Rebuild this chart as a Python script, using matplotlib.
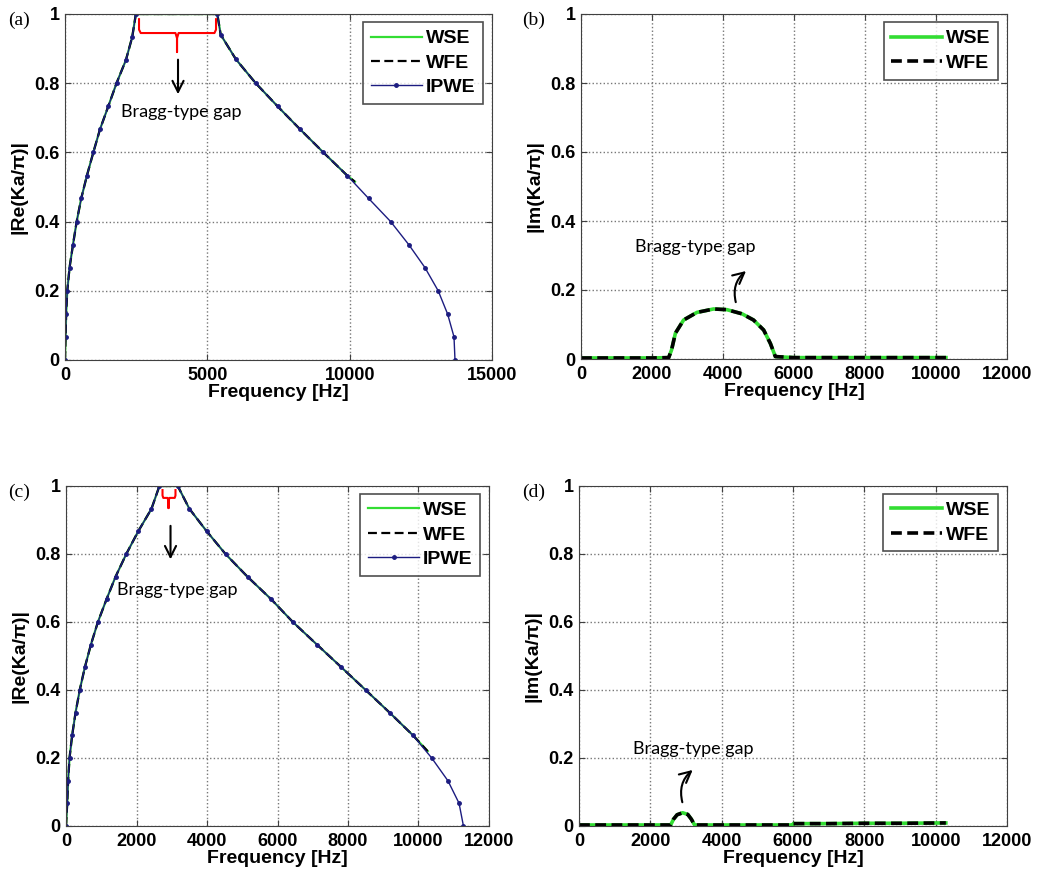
import matplotlib
matplotlib.use('Agg')
import matplotlib.pyplot as plt
import numpy as np

plt.rcParams['font.family'] = ['Liberation Sans', 'DejaVu Sans']

# ---- panel (a): real part, gap between 2490 and 5350 Hz ----
a_ipwe_f = [0, 20, 40, 80, 160, 280, 410, 570, 770, 995, 1230, 1520, 1810, 2140, 2360, 2490,
            5350, 5470, 6005, 6700, 7470, 8255, 9075, 9915, 10665, 11440, 12080, 12645, 13110,
            13440, 13665, 13700]
a_ipwe_re = [0, 0.067, 0.133, 0.2, 0.267, 0.333, 0.4, 0.467, 0.533, 0.6, 0.667, 0.733, 0.8,
             0.867, 0.933, 1.0,
             1.0, 0.94, 0.869, 0.8, 0.733, 0.667, 0.6, 0.533, 0.467, 0.4, 0.333, 0.267, 0.2,
             0.133, 0.067, 0]
a_wse_f = [0, 20, 40, 80, 160, 280, 410, 570, 770, 995, 1230, 1520, 1810, 2140, 2360, 2490,
           5350, 5470, 6005, 6700, 7470, 8255, 9075, 9915, 10185]
a_wse_re = [0, 0.067, 0.133, 0.2, 0.267, 0.333, 0.4, 0.467, 0.533, 0.6, 0.667, 0.733, 0.8,
            0.867, 0.933, 1.0,
            1.0, 0.94, 0.869, 0.8, 0.733, 0.667, 0.6, 0.533, 0.515]

# ---- panel (b): imaginary part ----
b_f = [0, 500, 1000, 1500, 2000, 2470, 2550, 2660, 2890, 3265, 3735, 4110, 4535, 4860, 5145,
       5335, 5475, 6000, 7000, 8000, 9000, 10280]
b_im = [0.003, 0.003, 0.003, 0.003, 0.003, 0.004, 0.026, 0.075, 0.113, 0.135, 0.145, 0.143,
        0.131, 0.113, 0.084, 0.045, 0.007, 0.004, 0.004, 0.004, 0.004, 0.004]

# ---- panel (c): real part, gap between 2650 and 3170 Hz ----
c_ipwe_f = [0, 35, 60, 100, 175, 270, 390, 535, 705, 905, 1150, 1405, 1710, 2050, 2425, 2650,
            3170, 3500, 3990, 4525, 5150, 5820, 6435, 7125, 7810, 8500, 9185, 9840, 10375,
            10835, 11150, 11275]
c_ipwe_re = [0, 0.067, 0.133, 0.2, 0.267, 0.333, 0.4, 0.467, 0.533, 0.6, 0.667, 0.733, 0.8,
             0.867, 0.933, 1.0,
             1.0, 0.933, 0.867, 0.8, 0.733, 0.667, 0.6, 0.533, 0.467, 0.4, 0.333, 0.267, 0.2,
             0.133, 0.067, 0]
c_wse_f = [0, 35, 60, 100, 175, 270, 390, 535, 705, 905, 1150, 1405, 1710, 2050, 2425, 2650,
           3170, 3500, 3990, 4525, 5150, 5820, 6435, 7125, 7810, 8500, 9185, 9840, 10260]
c_wse_re = [0, 0.067, 0.133, 0.2, 0.267, 0.333, 0.4, 0.467, 0.533, 0.6, 0.667, 0.733, 0.8,
            0.867, 0.933, 1.0,
            1.0, 0.933, 0.867, 0.8, 0.733, 0.667, 0.6, 0.533, 0.467, 0.4, 0.333, 0.267, 0.22]

# ---- panel (d): imaginary part ----
d_f = [0, 1000, 2000, 2570, 2650, 2750, 2905, 3050, 3150, 3240, 4000, 5000, 5990, 6010, 7000,
       8000, 9000, 10285]
d_im = [0.003, 0.003, 0.003, 0.003, 0.02, 0.033, 0.039, 0.034, 0.02, 0.003, 0.003, 0.003,
        0.003, 0.007, 0.007, 0.008, 0.008, 0.009]

GREEN = '#33dd33'
NAVY = '#1c1c80'
W, H = 1041, 877

fig = plt.figure(figsize=(W / 100, H / 100), dpi=100)


def px_axes(x0, x1, y0, y1):
    return fig.add_axes([x0 / W, 1 - y1 / H, (x1 - x0) / W, (y1 - y0) / H])


ax_a = px_axes(65, 492, 14, 360)
ax_b = px_axes(581, 1007, 14, 359)
ax_c = px_axes(66, 489, 486, 826)
ax_d = px_axes(579, 1007, 486, 826)


def style(ax, xmax, xstep, ylabel):
    ax.set_xlim(0, xmax)
    ax.set_ylim(0, 1)
    ax.set_xticks(np.arange(0, xmax + 1, xstep))
    ax.set_yticks([0, 0.2, 0.4, 0.6, 0.8, 1])
    ax.set_yticklabels(['0', '0.2', '0.4', '0.6', '0.8', '1'])
    ax.tick_params(direction='in', top=True, right=True, labelsize=13, length=4,
                   color='#404040')
    ax.tick_params(axis='x', pad=5)
    ax.tick_params(axis='y', pad=4)
    for lab in ax.get_xticklabels() + ax.get_yticklabels():
        lab.set_fontweight('bold')
    ax.grid(True, linestyle=':', color='#777777', linewidth=1)
    for s in ax.spines.values():
        s.set_color('#404040')
    ax.set_xlabel('Frequency [Hz]', fontsize=14, fontweight='bold', labelpad=0)
    ax.set_ylabel(ylabel, fontsize=14, fontweight='bold', labelpad=5)


def add_legend(ax):
    leg = ax.legend(loc='upper right', bbox_to_anchor=(1 - 9 / 427, 1 - 8 / 346),
                    borderaxespad=0, fancybox=False, handlelength=2.6, handletextpad=0.2,
                    prop={'weight': 'bold', 'size': 14}, labelspacing=0.35,
                    borderpad=0.4)
    leg.get_frame().set_edgecolor('#222222')
    leg.get_frame().set_linewidth(1.2)
    return leg


# (a)
ax_a.plot(a_wse_f, a_wse_re, color=GREEN, lw=1.6, label='WSE')
ax_a.plot(a_wse_f, a_wse_re, color='black', lw=1.6, ls=(0, (4, 2)), label='WFE')
ax_a.plot(a_ipwe_f, a_ipwe_re, color=NAVY, lw=1, marker='.', ms=5, label='IPWE')
style(ax_a, 15000, 5000, '|Re(Ka/π)|')
add_legend(ax_a)

# (b)
ax_b.plot(b_f, b_im, color=GREEN, lw=2.6, label='WSE')
ax_b.plot(b_f, b_im, color='black', lw=2.6, ls=(0, (3, 1.5)), label='WFE')
style(ax_b, 12000, 2000, '|Im(Ka/π)|')
add_legend(ax_b)

# (c)
ax_c.plot(c_wse_f, c_wse_re, color=GREEN, lw=1.6, label='WSE')
ax_c.plot(c_wse_f, c_wse_re, color='black', lw=1.6, ls=(0, (4, 2)), label='WFE')
ax_c.plot(c_ipwe_f, c_ipwe_re, color=NAVY, lw=1, marker='.', ms=5, label='IPWE')
style(ax_c, 12000, 2000, '|Re(Ka/π)|')
add_legend(ax_c)

# (d)
ax_d.plot(d_f, d_im, color=GREEN, lw=2.6, label='WSE')
ax_d.plot(d_f, d_im, color='black', lw=2.6, ls=(0, (3, 1.5)), label='WFE')
style(ax_d, 12000, 2000, '|Im(Ka/π)|')
add_legend(ax_d)

# gap annotations
note = dict(fontsize=13, family=['Lato', 'DejaVu Sans'], ha='center', va='center')

ax_a.plot([2600, 2600, 2660, 3880, 3935, 3935, 3935, 3990, 5250, 5305, 5305],
          [0.985, 0.955, 0.945, 0.945, 0.93, 0.89, 0.93, 0.945, 0.945, 0.955, 0.985],
          color='red', lw=1.5)
ax_a.annotate('', xy=(3970, 0.76), xytext=(3970, 0.876),
              arrowprops=dict(arrowstyle='->', color='black', lw=1.5, mutation_scale=20))
ax_a.text(4075, 0.717, 'Bragg-type gap', **note)

ax_c.plot([2738, 2738, 2760, 2880, 2908, 2908, 2908, 2936, 3084, 3106, 3106],
          [0.988, 0.972, 0.965, 0.965, 0.955, 0.935, 0.955, 0.965, 0.965, 0.972, 0.988],
          color='red', lw=1.5)
ax_c.annotate('', xy=(2965, 0.776), xytext=(2965, 0.891),
              arrowprops=dict(arrowstyle='->', color='black', lw=1.5, mutation_scale=20))
ax_c.text(3163, 0.694, 'Bragg-type gap', **note)

ax_b.annotate('', xy=(4710, 0.26), xytext=(4380, 0.157),
              arrowprops=dict(arrowstyle='->', color='black', lw=1.5, mutation_scale=20,
                              connectionstyle='arc3,rad=-0.35'))
ax_b.text(3220, 0.326, 'Bragg-type gap', **note)

ax_d.annotate('', xy=(3248, 0.17), xytext=(2918, 0.062),
              arrowprops=dict(arrowstyle='->', color='black', lw=1.5, mutation_scale=20,
                              connectionstyle='arc3,rad=-0.35'))
ax_d.text(3210, 0.226, 'Bragg-type gap', **note)

# panel letters
for x, y, s in [(8, 20, '(a)'), (522, 20, '(b)'), (8, 492, '(c)'), (522, 492, '(d)')]:
    fig.text(x / W, 1 - y / H, s, fontsize=14, family=['Liberation Serif', 'DejaVu Serif'],
             va='center', ha='left')

fig.savefig('out.png', dpi=100)
